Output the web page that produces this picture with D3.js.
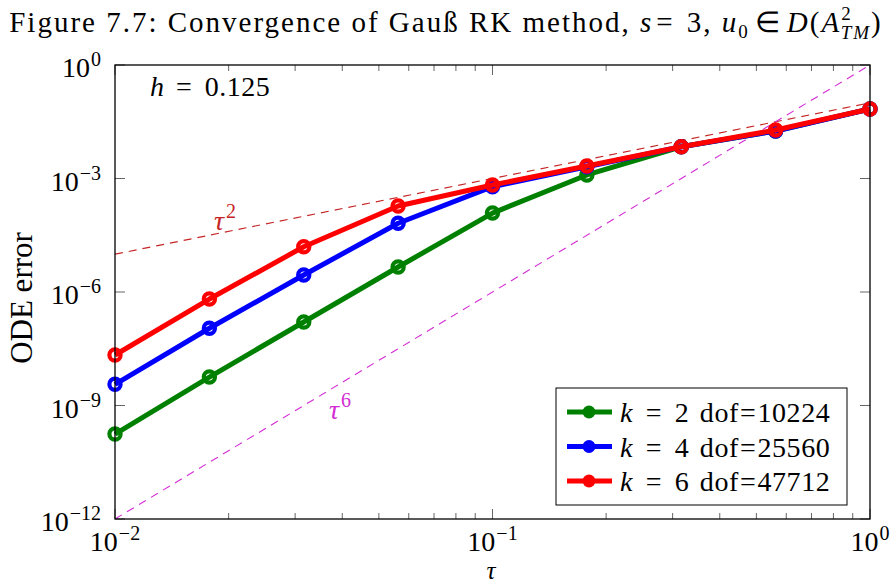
<!DOCTYPE html>
<html>
<head>
<meta charset="utf-8">
<script src="https://cdn.jsdelivr.net/npm/d3@7"></script>
<style>
  html, body { margin: 0; padding: 0; background: #fff; }
  svg { display: block; font-family: "Liberation Serif", "Times New Roman", serif; }
</style>
</head>
<body>
<svg id="chart" width="892" height="584"></svg>
<script>
// ---------------- data ----------------
const tau = [0.01, 0.017783, 0.031623, 0.056234, 0.1, 0.17783, 0.31623, 0.56234, 1];
const errK2 = [1.76e-10, 5.66e-9, 1.61e-7, 4.58e-6, 1.22e-4, 1.24e-3, 6.9e-3, 1.8e-2, 6.9e-2];
const errK4 = [3.63e-9, 1.10e-7, 2.82e-6, 6.55e-5, 6.07e-4, 2.05e-3, 6.9e-3, 1.8e-2, 6.85e-2];
const errK6 = [2.16e-8, 6.52e-7, 1.57e-5, 1.87e-4, 6.73e-4, 2.14e-3, 6.9e-3, 1.91e-2, 6.87e-2];
const refX = [0.01, 1];
const refTau2 = [1e-5, 1e-1];
const refTau6 = [1e-12, 1];
const seriesK = ["2", "4", "6"];
const seriesDof = ["10224", "25560", "47712"];
const xTickValues = [0.01, 0.1, 1];
const xTickExps = ["−2", "−1", "0"];
const yTickValues = [1e-12, 1e-9, 1e-6, 1e-3, 1];
const yTickExps = ["−12", "−9", "−6", "−3", "0"];

// ---------------- layout ----------------
const L = 115, R = 870, T = 65, B = 519;
const svg = d3.select("#chart");
const x = d3.scaleLog().domain([0.01, 1]).range([L, R]);
const y = d3.scaleLog().domain([1e-12, 1]).range([B, T]);

const colors = ["#008000", "#0000ff", "#ff0000"];
const FS = 28;
const SUP = 20;

svg.append("defs").append("clipPath").attr("id", "clip")
  .append("rect").attr("x", L).attr("y", T).attr("width", R - L).attr("height", B - T);

// ticks
const minorX = [];
[0.01, 0.1].forEach(d => { for (let i = 2; i <= 9; i++) minorX.push(d * i); });
const tickG = svg.append("g").attr("stroke", "#666").attr("stroke-width", 1);
minorX.forEach(v => {
  tickG.append("line").attr("x1", x(v)).attr("x2", x(v)).attr("y1", B).attr("y2", B - 6);
  tickG.append("line").attr("x1", x(v)).attr("x2", x(v)).attr("y1", T).attr("y2", T + 6);
});
xTickValues.forEach(v => {
  tickG.append("line").attr("x1", x(v)).attr("x2", x(v)).attr("y1", B).attr("y2", B - 10);
  tickG.append("line").attr("x1", x(v)).attr("x2", x(v)).attr("y1", T).attr("y2", T + 10);
});
yTickValues.forEach(v => {
  tickG.append("line").attr("x1", L).attr("x2", L + 10).attr("y1", y(v)).attr("y2", y(v));
  tickG.append("line").attr("x1", R).attr("x2", R - 10).attr("y1", y(v)).attr("y2", y(v));
});

// reference lines
const plotG = svg.append("g").attr("clip-path", "url(#clip)");
const lineGen = d3.line().x(d => x(d[0])).y(d => y(d[1]));
plotG.append("path").datum(refX.map((v, i) => [v, refTau2[i]]))
  .attr("d", lineGen).attr("fill", "none").attr("stroke", "#c62424")
  .attr("stroke-width", 1.1).attr("stroke-dasharray", "8,6");
plotG.append("path").datum(refX.map((v, i) => [v, refTau6[i]]))
  .attr("d", lineGen).attr("fill", "none").attr("stroke", "#d42cd4")
  .attr("stroke-width", 1.1).attr("stroke-dasharray", "8,6");

// series
const allSeries = [errK2, errK4, errK6];
const markG = svg.append("g");
allSeries.forEach((s, i) => {
  const pts = tau.map((t, j) => [t, s[j]]);
  markG.append("path").datum(pts).attr("d", lineGen)
    .attr("fill", "none").attr("stroke", colors[i]).attr("stroke-width", 5)
    .attr("stroke-linejoin", "round");
  markG.selectAll(null).data(pts).enter().append("circle")
    .attr("cx", d => x(d[0])).attr("cy", d => y(d[1])).attr("r", 5.6)
    .attr("fill", "none").attr("stroke", colors[i]).attr("stroke-width", 4.2);
});

// frame
svg.append("rect").attr("x", L).attr("y", T).attr("width", R - L).attr("height", B - T)
  .attr("fill", "none").attr("stroke", "#000").attr("stroke-width", 1.3);

// tick labels
function pow10(g, xPos, yPos, exp, anchor) {
  const t = g.append("text").attr("x", xPos).attr("y", yPos).attr("text-anchor", anchor)
    .attr("font-size", FS).attr("fill", "#000");
  t.append("tspan").text("10");
  t.append("tspan").attr("dy", -11).attr("dx", 1).attr("font-size", SUP).text(exp);
  return t;
}
const labG = svg.append("g");
xTickValues.forEach((v, i) => pow10(labG, x(v), 551, xTickExps[i], "middle"));
yTickValues.forEach((v, i) => pow10(labG, 101, y(v) + 12, yTickExps[i], "end"));

// axis titles
svg.append("text").attr("x", 491).attr("y", 579).attr("text-anchor", "middle")
  .attr("font-size", 25).attr("font-style", "italic").text("τ");
svg.append("text").attr("transform", "translate(32,298) rotate(-90)")
  .attr("text-anchor", "middle").attr("font-size", 31).text("ODE error");

// title
const title = svg.append("text").attr("x", 446).attr("y", 32).attr("text-anchor", "middle")
  .attr("font-size", 29).attr("letter-spacing", 2);
title.append("tspan").text("Figure 7.7: Convergence of Gauß RK method, ");
title.append("tspan").attr("font-style", "italic").text("s");
title.append("tspan").attr("dx", 3).text("=");
title.append("tspan").attr("dx", 3).text(" 3, ");
title.append("tspan").attr("font-style", "italic").text("u");
title.append("tspan").attr("font-size", 19).attr("dy", 6).text("0");
title.append("tspan").attr("dy", -6).attr("dx", 5).text("∈");
title.append("tspan").attr("dx", 5).attr("font-style", "italic").text("D");
title.append("tspan").text("(");
title.append("tspan").attr("font-style", "italic").text("A");
title.append("tspan").attr("font-size", 19).attr("dy", -12).attr("dx", 0).text("2");
title.append("tspan").attr("font-size", 19).attr("font-style", "italic").attr("dx", -12).attr("dy", 19).text("TM");
title.append("tspan").attr("dy", -7).text(")");

// annotations
const hT = svg.append("text").attr("x", 150).attr("y", 96).attr("font-size", FS).attr("letter-spacing", 0.5);
hT.append("tspan").attr("font-style", "italic").text("h");
hT.append("tspan").attr("dx", 4).text(" =");
hT.append("tspan").attr("dx", 5).text(" 0.125");

const t2 = svg.append("text").attr("x", 214).attr("y", 230).attr("font-size", FS).attr("fill", "#c62424");
t2.append("tspan").attr("font-style", "italic").text("τ");
t2.append("tspan").attr("font-size", SUP).attr("dy", -12).attr("dx", 2).text("2");
const t6 = svg.append("text").attr("x", 329).attr("y", 419).attr("font-size", FS).attr("fill", "#d42cd4");
t6.append("tspan").attr("font-style", "italic").text("τ");
t6.append("tspan").attr("font-size", SUP).attr("dy", -12).attr("dx", 2).text("6");

// legend
const lg = svg.append("g");
lg.append("rect").attr("x", 556).attr("y", 388).attr("width", 291).attr("height", 117)
  .attr("fill", "#fff").attr("stroke", "#000").attr("stroke-width", 1);
seriesK.forEach((kk, i) => {
  const cy = 412 + i * 34.5;
  lg.append("line").attr("x1", 567).attr("x2", 612).attr("y1", cy).attr("y2", cy)
    .attr("stroke", colors[i]).attr("stroke-width", 5);
  lg.append("circle").attr("cx", 589).attr("cy", cy).attr("r", 6.5).attr("fill", colors[i]);
  const tx = lg.append("text").attr("x", 620).attr("y", cy + 10).attr("font-size", FS)
    .attr("letter-spacing", 0.6);
  tx.append("tspan").attr("font-style", "italic").text("k");
  tx.append("tspan").attr("dx", 5).text(" =");
  tx.append("tspan").attr("dx", 5).text(" " + kk);
  tx.append("tspan").attr("dx", 3).text(" dof");
  tx.append("tspan").attr("dx", 1).text("=");
  tx.append("tspan").attr("dx", 1).text(seriesDof[i]);
});
</script>
</body>
</html>
